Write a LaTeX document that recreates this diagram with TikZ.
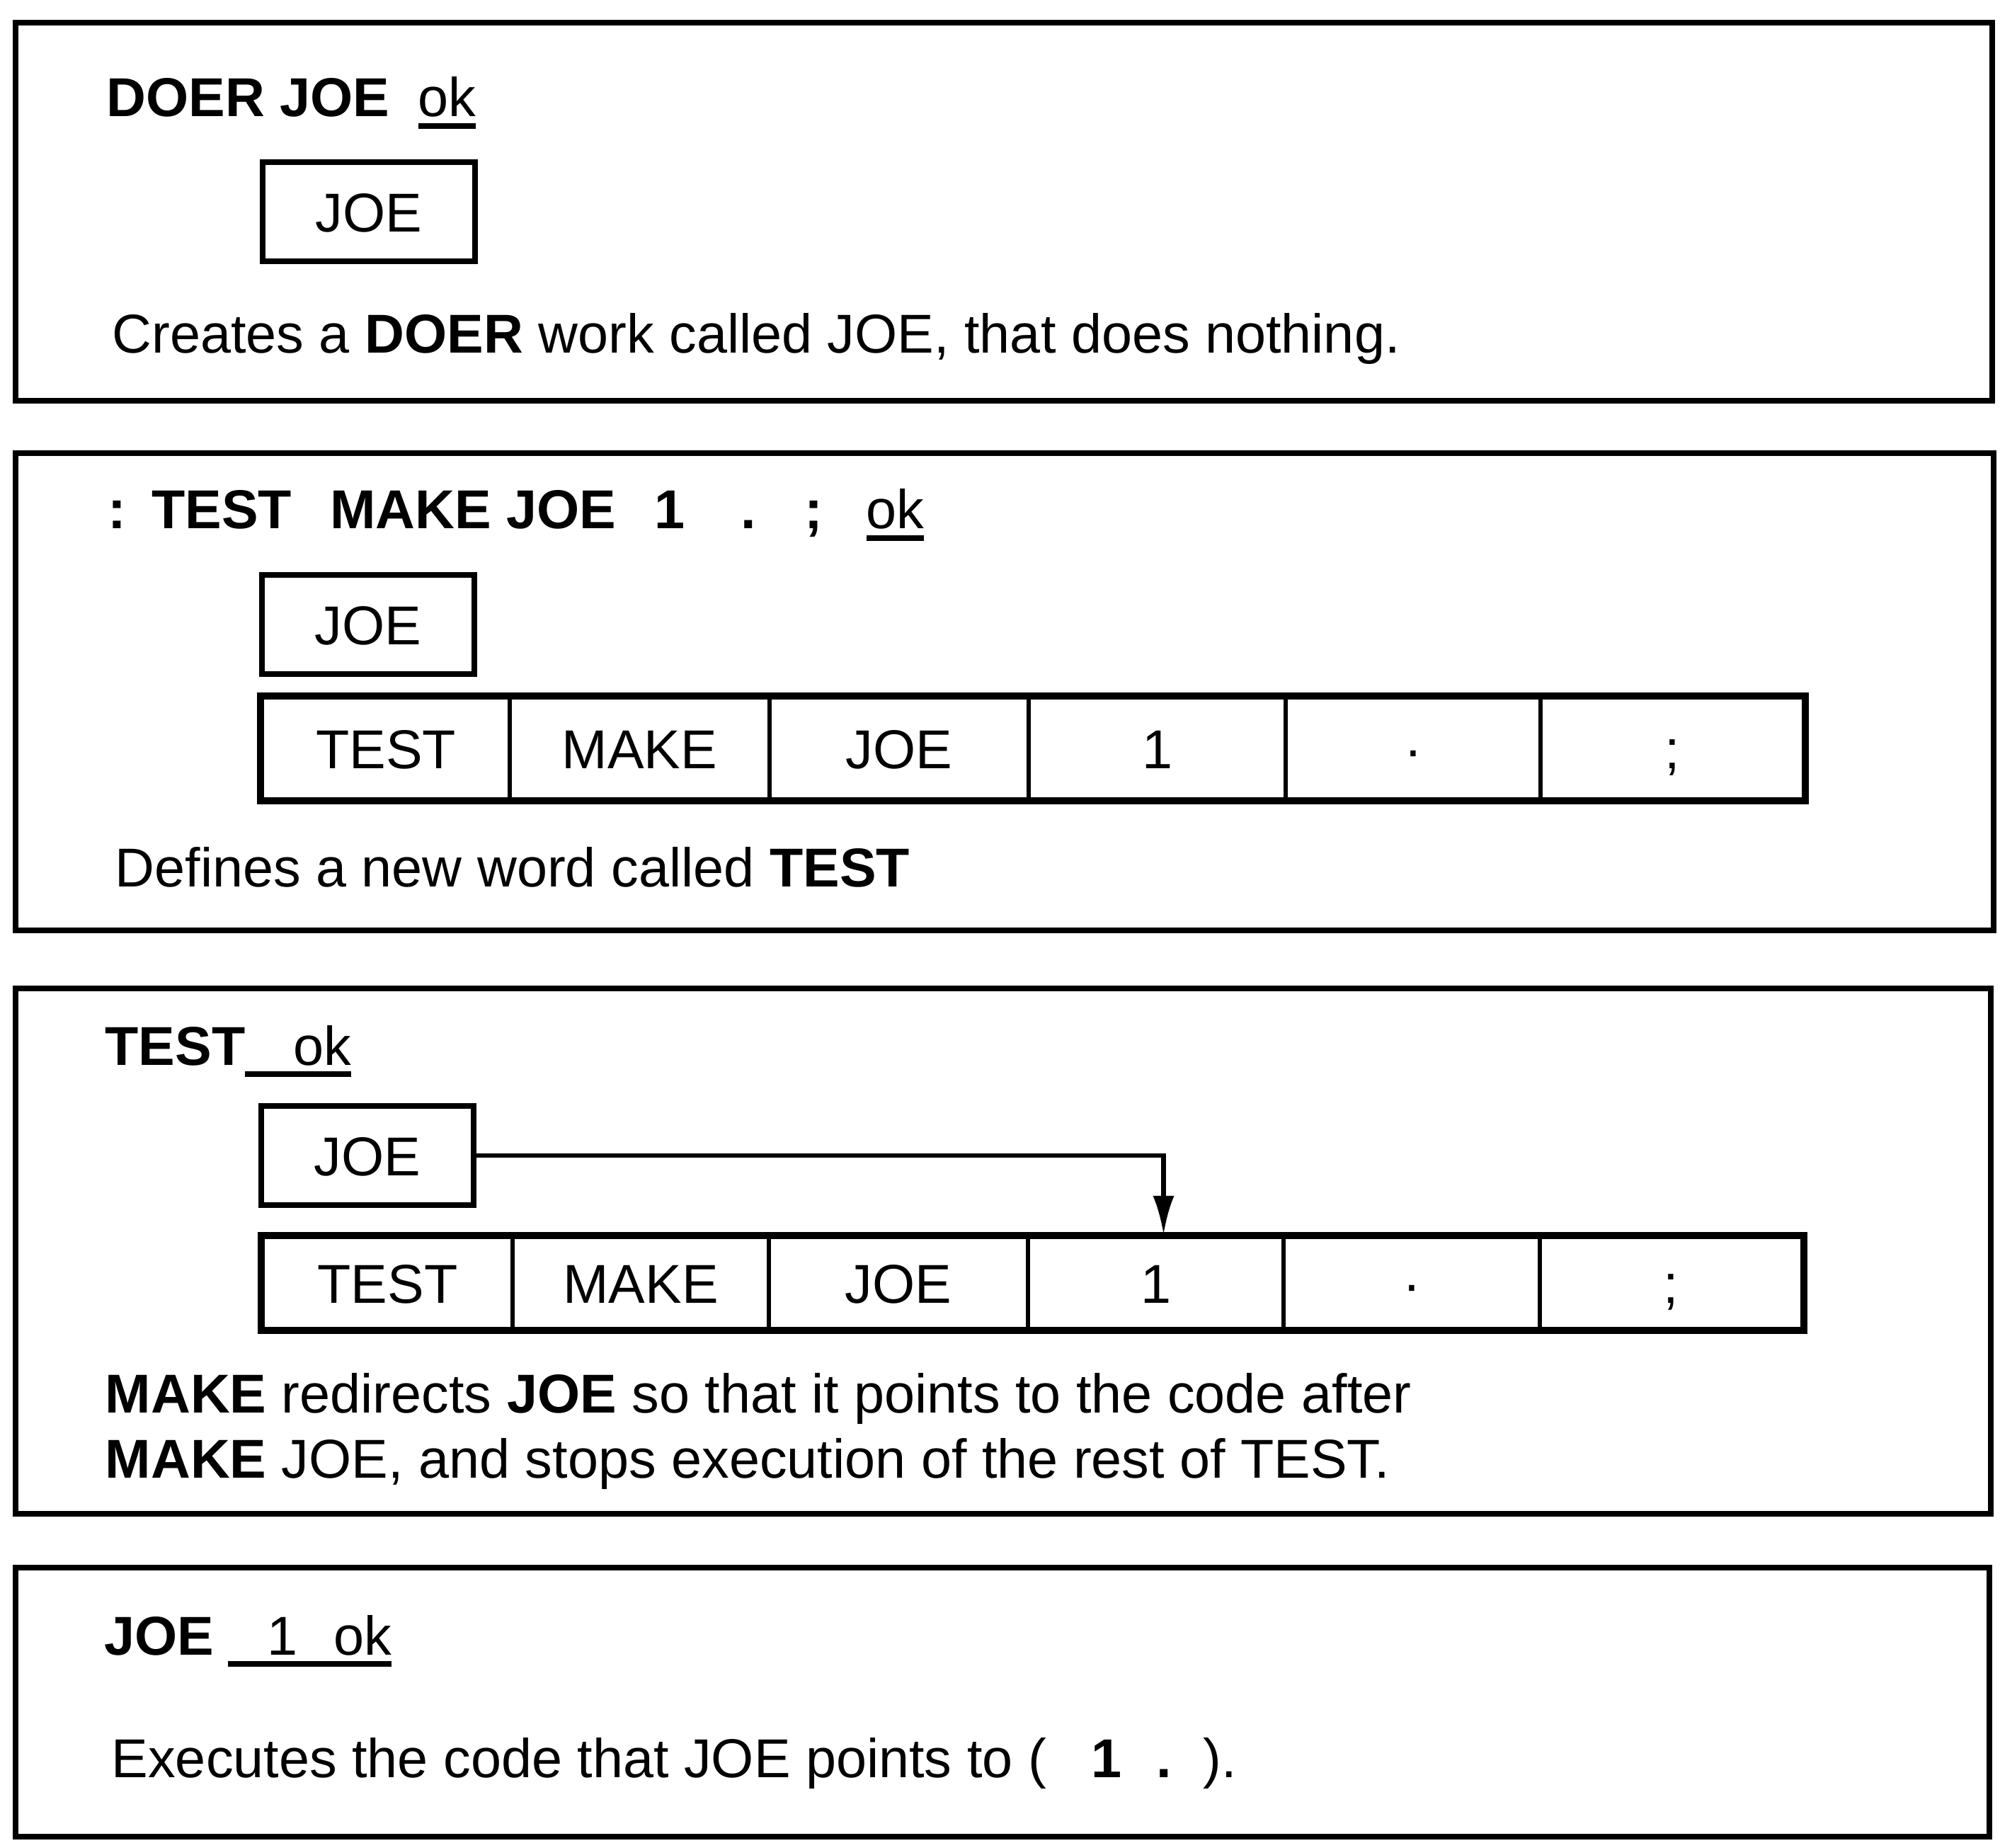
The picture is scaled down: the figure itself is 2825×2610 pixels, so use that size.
\documentclass[tikz,border=0pt]{standalone}
\usepackage{fontspec}
\setmainfont{Liberation Sans}
\usetikzlibrary{arrows.meta}

\newsavebox\ulbox
\newcommand\uln[1]{\sbox\ulbox{#1}\rlap{\rule[-0.17cm]{\wd\ulbox}{0.08cm}}\usebox\ulbox}

\tikzset{
  panel/.style={line width=2.3pt},
  wbox/.style={draw, line width=2.2pt, minimum width=3cm, minimum height=1.4cm,
    inner sep=0pt, text height=0.56cm, text depth=0pt},
  cell/.style={draw, line width=1.7pt, inner sep=0pt, text height=0.56cm, text depth=0pt},
  txt/.style={anchor=base west, inner sep=0pt},
  outer/.style={line width=2.3pt},
}

\begin{document}
\begin{tikzpicture}[x=0.01cm, y=-0.01cm, font=\fontsize{22}{26}\selectfont]
\useasboundingbox (0,0) rectangle (2825,2610);

\draw[panel] (22,32) rectangle (2814,566);
\node[txt] (t1) at (150,165) {\textbf{DOER JOE}\hspace{0.4cm}\uln{ok}};
\node[wbox] (j1) at (521,299) {JOE};
\node[txt] (b1) at (158,499) {Creates a \textbf{DOER} work called JOE, that does nothing.};

\draw[panel] (22,640) rectangle (2816,1314);
\node[txt] (t2) at (152,747) {\textbf{:\hspace{0.36cm}TEST\hspace{0.54cm}MAKE JOE\hspace{0.54cm}1\hspace{0.79cm}.\hspace{0.69cm};}\hspace{0.61cm}\uln{ok}};
\node[wbox] (j2) at (520,882) {JOE};
\foreach \w/\xa/\xb [count=\i] in {TEST/370/720, MAKE/720/1087, JOE/1087/1453, 1/1453/1816, ·/1816/2176, {;}/2176/2548}
  \node[cell, minimum width={(\xb-\xa)*0.01cm}, minimum height=1.43cm] (r2\i) at ({(\xa+\xb)/2},1057) {\w};
\draw[outer] (r21.north west) rectangle (r26.south east);
\node[txt] (b2) at (162,1252) {Defines a new word called \textbf{TEST}};

\draw[panel] (22,1396) rectangle (2812,2138);
\node[txt] (t3) at (148,1504) {\textbf{TEST}\uln{\hspace{0.68cm}ok}};
\node[wbox] (j3) at (519,1632) {JOE};
\foreach \w/\xa/\xb [count=\i] in {TEST/371/724, MAKE/724/1086, JOE/1086/1452, 1/1452/1813, ·/1813/2175, {;}/2175/2546}
  \node[cell, minimum width={(\xb-\xa)*0.01cm}, minimum height=1.3cm] (r3\i) at ({(\xa+\xb)/2},1812) {\w};
\draw[outer] (r31.north west) rectangle (r36.south east);
\draw[line width=1.8pt, -{Latex[length=0.55cm,width=0.3cm]}] (j3.east) -| ([xshift=0.11cm]r34.north);
\node[txt] (b3) at (148,1995) {\textbf{MAKE} redirects \textbf{JOE} so that it points to the code after};
\node[txt] (b4) at (148,2087) {\textbf{MAKE} JOE, and stops execution of the rest of TEST.};

\draw[panel] (22,2214) rectangle (2810,2594);
\node[txt] (t4) at (147,2337) {\textbf{JOE}\hspace{0.19cm}\uln{\hspace{0.56cm}1\hspace{0.51cm}ok}};
\node[txt] (b5) at (157,2510) {Executes the code that JOE points to (\hspace{0.64cm}\textbf{1}\hspace{0.49cm}\textbf{.}\hspace{0.44cm}).};
\end{tikzpicture}
\end{document}
